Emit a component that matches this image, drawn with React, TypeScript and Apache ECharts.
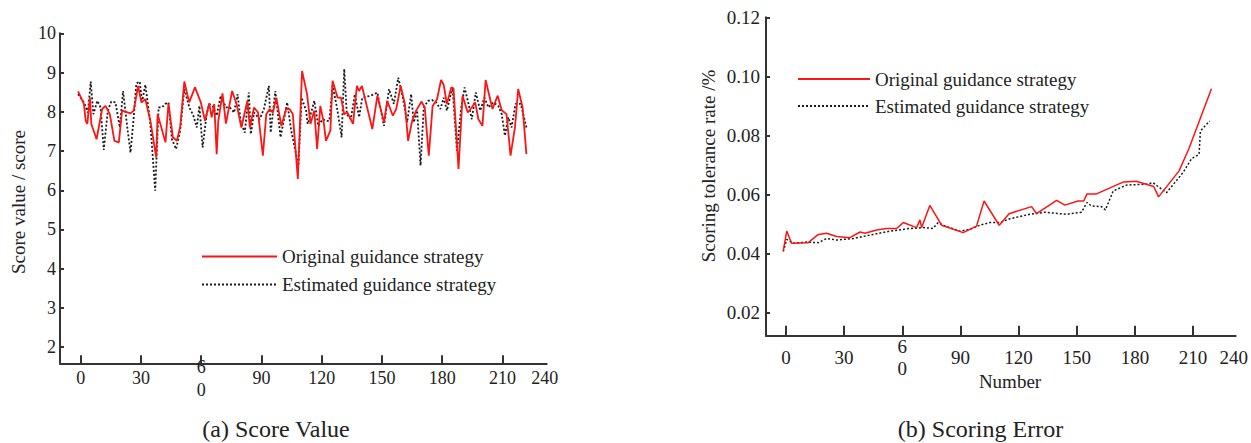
import React, { useEffect, useRef } from 'react';
import * as echarts from 'echarts';

const FONT = '"Liberation Serif", "Times New Roman", serif';

const seriesNames = ['Original guidance strategy', 'Estimated guidance strategy'];
const xTickValues = [0, 30, 60, 90, 120, 150, 180, 210];
const xLabelValues = [0, 30, 60, 90, 120, 150, 180, 210, 231];
const xLabelTexts = ['0', '30', '6\n0', '90', '120', '150', '180', '210', '240'];
const scoreTicks = [2, 3, 4, 5, 6, 7, 8, 9, 10];
const errorTicks = [0.02, 0.04, 0.06, 0.08, 0.1, 0.12];

const scoreOriginal: [number, number][] = [
  [-1.3, 8.52], [1.6, 8.2], [2.5, 7.77], [3.3, 7.69], [4.6, 8.36], [5.3, 7.69], [7.9, 7.3], [10.7, 8.07],
  [12.4, 8.15], [14.5, 7.94], [16.8, 7.26], [19.0, 7.22], [20.6, 8.03], [24.8, 7.96], [26.4, 8.03], [28.6, 8.66],
  [30.2, 8.24], [32.2, 8.32], [34.7, 7.77], [37.6, 6.84], [38.3, 7.94], [42.2, 7.22], [43.7, 8.21], [45.9, 7.35],
  [47.9, 7.26], [49.5, 7.6], [51.6, 8.77], [54.0, 8.24], [56.9, 8.62], [59.8, 8.24], [61.9, 7.77], [64.0, 8.21],
  [65.2, 7.86], [66.5, 8.2], [67.7, 6.92], [68.5, 7.77], [70.6, 8.47], [72.3, 7.7], [75.4, 8.53], [77.6, 8.2],
  [80.0, 7.6], [83.0, 8.28], [84.2, 7.6], [86.3, 8.11], [88.3, 7.98], [90.7, 6.88], [92.4, 7.94], [94.1, 8.07],
  [95.7, 7.98], [97.4, 8.36], [99.9, 7.64], [102.3, 8.07], [104.0, 8.07], [105.6, 7.94], [108.1, 6.29], [110.2, 9.04],
  [112.7, 8.45], [114.4, 7.69], [116.3, 8.03], [117.7, 7.05], [119.3, 8.15], [121.0, 7.73], [122.1, 7.26], [124.3, 7.52],
  [125.4, 8.79], [127.9, 8.36], [129.6, 8.36], [131.2, 7.94], [132.8, 7.98], [135.6, 7.69], [137.5, 8.66], [138.6, 8.53],
  [140.0, 8.66], [145.2, 7.56], [147.7, 8.41], [151.0, 7.73], [152.6, 8.28], [155.4, 7.9], [157.1, 8.07], [159.3, 8.66],
  [161.4, 8.2], [163.0, 7.26], [165.0, 7.77], [167.0, 8.03], [169.7, 8.26], [171.3, 8.11], [173.3, 6.88], [175.2, 8.15],
  [177.4, 8.32], [179.4, 8.81], [180.7, 8.69], [182.3, 8.2], [184.5, 8.62], [185.6, 8.6], [188.1, 6.54], [190.1, 8.41],
  [192.7, 7.98], [194.7, 8.11], [196.4, 8.24], [198.0, 7.81], [200.0, 7.64], [201.6, 8.81], [205.0, 8.07], [207.6, 8.41],
  [209.6, 8.04], [212.0, 7.94], [214.0, 6.88], [216.2, 7.6], [217.8, 8.58], [220.0, 8.11], [221.9, 6.92],
];

const scoreEstimated: [number, number][] = [
  [-1.3, 8.45], [1.6, 8.24], [3.6, 7.98], [5.0, 8.77], [6.3, 7.94], [8.3, 8.28], [9.9, 8.11], [11.5, 7.03],
  [13.5, 8.03], [15.2, 8.26], [17.3, 8.24], [19.5, 7.6], [21.1, 8.53], [23.1, 7.64], [24.8, 6.96], [26.4, 7.86],
  [27.7, 8.72], [29.4, 8.77], [30.5, 8.24], [32.2, 8.69], [34.7, 7.69], [37.1, 5.99], [38.8, 8.11], [40.4, 8.11],
  [42.1, 8.2], [43.7, 8.24], [45.4, 7.3], [47.5, 7.05], [49.5, 7.52], [51.6, 8.58], [54.1, 8.11], [56.1, 7.9],
  [57.8, 7.6], [59.1, 8.15], [60.7, 7.09], [62.7, 7.94], [64.0, 8.2], [65.7, 8.15], [67.7, 7.9], [69.7, 8.41],
  [72.3, 8.11], [74.3, 8.11], [76.4, 7.98], [78.1, 8.45], [79.7, 7.73], [81.7, 7.47], [83.7, 8.49], [84.7, 7.43],
  [86.3, 7.98], [89.1, 7.81], [91.2, 8.07], [93.7, 8.66], [94.6, 7.47], [96.9, 8.53], [99.5, 7.35], [102.8, 8.24],
  [104.8, 7.52], [106.4, 7.13], [108.4, 6.63], [110.0, 8.36], [112.2, 8.03], [113.0, 7.69], [115.0, 8.03], [116.3, 8.28],
  [118.3, 7.64], [120.4, 7.81], [122.6, 7.77], [123.8, 7.77], [125.4, 8.66], [127.6, 8.11], [129.9, 7.35], [131.2, 9.09],
  [132.5, 7.94], [134.5, 7.81], [136.5, 8.45], [138.6, 7.86], [140.2, 8.36], [144.4, 8.41], [147.7, 8.49], [151.0, 7.64],
  [153.5, 8.58], [155.9, 8.2], [158.1, 8.87], [160.4, 8.36], [162.5, 7.73], [164.5, 8.45], [165.8, 7.73], [167.5, 8.03],
  [169.2, 6.63], [170.8, 8.11], [172.9, 8.28], [174.9, 8.3], [176.9, 8.24], [179.1, 8.07], [180.7, 8.36], [182.3, 8.03],
  [185.1, 8.62], [187.3, 7.01], [189.5, 8.11], [191.1, 8.62], [193.1, 8.2], [194.7, 7.81], [196.7, 8.49], [198.9, 8.03],
  [201.0, 8.36], [203.0, 8.11], [205.4, 8.24], [207.9, 8.15], [209.6, 7.94], [211.2, 7.39], [212.9, 7.86], [214.5, 7.6],
  [216.5, 8.2], [219.1, 8.2], [221.9, 7.6],
];

const errorOriginal: [number, number][] = [
  [-1.4, 0.0409], [0.4, 0.0476], [2.9, 0.0435], [11.5, 0.0437], [16.7, 0.0465], [21.0, 0.0469], [26.1, 0.0458],
  [33.0, 0.0454], [38.2, 0.0473], [40.7, 0.0469], [46.8, 0.048], [51.9, 0.0485], [57.1, 0.0485], [60.5, 0.0505],
  [67.4, 0.0488], [69.1, 0.0514], [70.0, 0.0488], [74.2, 0.0563], [80.3, 0.0496], [91.4, 0.0471], [98.3, 0.0493],
  [102.2, 0.0578], [110.0, 0.0496], [115.1, 0.0535], [126.7, 0.0559], [129.3, 0.0535], [139.6, 0.058], [143.9, 0.0564],
  [150.7, 0.0578], [153.6, 0.0578], [155.3, 0.0602], [160.2, 0.0602], [173.9, 0.0642], [180.8, 0.0645], [189.7, 0.0627],
  [192.2, 0.0592], [202.8, 0.068], [207.9, 0.0756], [219.5, 0.0958],
];

const errorEstimated: [number, number][] = [
  [-1.4, 0.0407], [0.4, 0.0448], [3.8, 0.0435], [10.7, 0.0439], [16.7, 0.0437], [21.0, 0.0451], [26.1, 0.0446],
  [34.7, 0.0451], [45.0, 0.0465], [53.6, 0.0476], [63.9, 0.0485], [70.8, 0.0488], [75.9, 0.0485], [78.5, 0.0505],
  [81.1, 0.0496], [89.7, 0.0476], [94.9, 0.0482], [100.0, 0.0496], [105.2, 0.0505], [110.3, 0.0505], [115.5, 0.0518],
  [125.8, 0.0533], [133.5, 0.054], [144.7, 0.0533], [152.5, 0.054], [155.3, 0.0573], [157.6, 0.0561], [162.8, 0.0559],
  [164.8, 0.0548], [168.8, 0.0612], [175.7, 0.0632], [186.0, 0.0635], [189.4, 0.064], [192.8, 0.0623], [196.3, 0.0606],
  [204.8, 0.0674], [209.2, 0.0721], [213.1, 0.0736], [213.8, 0.0815], [218.6, 0.0849],
];

const AXIS_COLOR = '#333';
const TEXT_COLOR = '#222';

function xAxisFor(gridIndex: number, tickLen: number, labelMargin: number, lineHeight: number, fontSize: number) {
  return {
    type: 'value',
    gridIndex,
    min: -10.3,
    max: 232,
    splitLine: { show: false },
    axisLine: { onZero: false, lineStyle: { color: AXIS_COLOR, width: 2 } },
    axisTick: { inside: true, length: tickLen, customValues: xTickValues, lineStyle: { color: AXIS_COLOR, width: 2 } },
    axisLabel: {
      customValues: xLabelValues,
      formatter: (v: number) => {
        const i = xLabelValues.indexOf(v);
        return i >= 0 ? xLabelTexts[i] : '';
      },
      verticalAlign: 'middle',
      margin: labelMargin,
      lineHeight,
      fontSize,
      fontFamily: FONT,
      color: TEXT_COLOR,
    },
  };
}

export default function App() {
  const ref = useRef<HTMLDivElement>(null);

  useEffect(() => {
    if (!ref.current) return;
    const chart = echarts.init(ref.current, null, { renderer: 'svg' });
    const legendBase = {
      orient: 'vertical',
      padding: 0,
      itemHeight: 14,
      data: seriesNames,
      textStyle: { fontSize: 19, fontFamily: FONT, color: TEXT_COLOR },
      itemStyle: { color: 'transparent', borderColor: 'transparent', borderWidth: 0 },
      selectedMode: false,
    };
    const option: any = {
      animation: false,
      backgroundColor: '#fff',
      grid: [
        { left: 60, top: 33.3, width: 486.7, height: 330 },
        { left: 766, top: 17.3, width: 470, height: 318.4 },
      ],
      xAxis: [
        xAxisFor(0, 8, 15, 23, 18),
        xAxisFor(1, 10, 22, 22, 19),
      ],
      yAxis: [
        {
          type: 'value',
          gridIndex: 0,
          min: 1.59,
          max: 10,
          splitLine: { show: false },
          axisLine: { show: true, onZero: false, lineStyle: { color: AXIS_COLOR, width: 2 } },
          axisTick: { show: true, inside: true, length: 4, customValues: scoreTicks, lineStyle: { color: AXIS_COLOR, width: 2 } },
          axisLabel: { customValues: scoreTicks, margin: 4, fontSize: 18, fontFamily: FONT, color: TEXT_COLOR },
        },
        {
          type: 'value',
          gridIndex: 1,
          min: 0.0122,
          max: 0.12,
          splitLine: { show: false },
          axisLine: { show: true, onZero: false, lineStyle: { color: AXIS_COLOR, width: 2 } },
          axisTick: { show: true, inside: true, length: 4, customValues: errorTicks, lineStyle: { color: AXIS_COLOR, width: 2 } },
          axisLabel: {
            customValues: errorTicks,
            formatter: (v: number) => v.toFixed(2),
            margin: 6,
            fontSize: 19,
            fontFamily: FONT,
            color: TEXT_COLOR,
          },
        },
      ],
      legend: [
        { ...legendBase, left: 201, top: 247, itemWidth: 75, itemGap: 9 },
        { ...legendBase, left: 797, top: 69.5, itemWidth: 72, itemGap: 8 },
      ],
      series: [
        {
          name: seriesNames[0], type: 'line', xAxisIndex: 0, yAxisIndex: 0, data: scoreOriginal,
          symbol: 'none', lineStyle: { color: '#ff1414', width: 1.8 }, itemStyle: { color: '#ff1414' }, z: 3,
        },
        {
          name: seriesNames[1], type: 'line', xAxisIndex: 0, yAxisIndex: 0, data: scoreEstimated,
          symbol: 'none', lineStyle: { color: '#1a1a1a', width: 1.8, type: [2, 2] }, itemStyle: { color: '#1a1a1a' }, z: 2,
        },
        {
          name: seriesNames[0], type: 'line', xAxisIndex: 1, yAxisIndex: 1, data: errorOriginal,
          symbol: 'none', lineStyle: { color: '#ff1414', width: 1.5 }, itemStyle: { color: '#ff1414' }, z: 3,
        },
        {
          name: seriesNames[1], type: 'line', xAxisIndex: 1, yAxisIndex: 1, data: errorEstimated,
          symbol: 'none', lineStyle: { color: '#1a1a1a', width: 1.5, type: [2, 2] }, itemStyle: { color: '#1a1a1a' }, z: 2,
        },
      ],
      graphic: [
        {
          type: 'text', x: 18.5, y: 202, rotation: Math.PI / 2,
          style: { text: 'Score value / score', fontSize: 19, fontFamily: FONT, fill: TEXT_COLOR, align: 'center', verticalAlign: 'middle' },
        },
        {
          type: 'text', x: 708, y: 166, rotation: Math.PI / 2,
          style: { text: 'Scoring tolerance rate /%', fontSize: 19, fontFamily: FONT, fill: TEXT_COLOR, align: 'center', verticalAlign: 'middle' },
        },
        {
          type: 'text', x: 1010, y: 381.5,
          style: { text: 'Number', fontSize: 19, fontFamily: FONT, fill: TEXT_COLOR, align: 'center', verticalAlign: 'middle' },
        },
        {
          type: 'text', x: 276, y: 429,
          style: { text: '(a) Score Value', fontSize: 24, fontFamily: FONT, fill: TEXT_COLOR, align: 'center', verticalAlign: 'middle' },
        },
        {
          type: 'text', x: 980.5, y: 429,
          style: { text: '(b) Scoring Error', fontSize: 24, fontFamily: FONT, fill: TEXT_COLOR, align: 'center', verticalAlign: 'middle' },
        },
      ],
    };
    chart.setOption(option);
    return () => chart.dispose();
  }, []);

  return (
    <div
      ref={ref}
      style={{ position: 'fixed', left: 0, top: 0, width: 1251, height: 443, background: '#fff' }}
    />
  );
}
